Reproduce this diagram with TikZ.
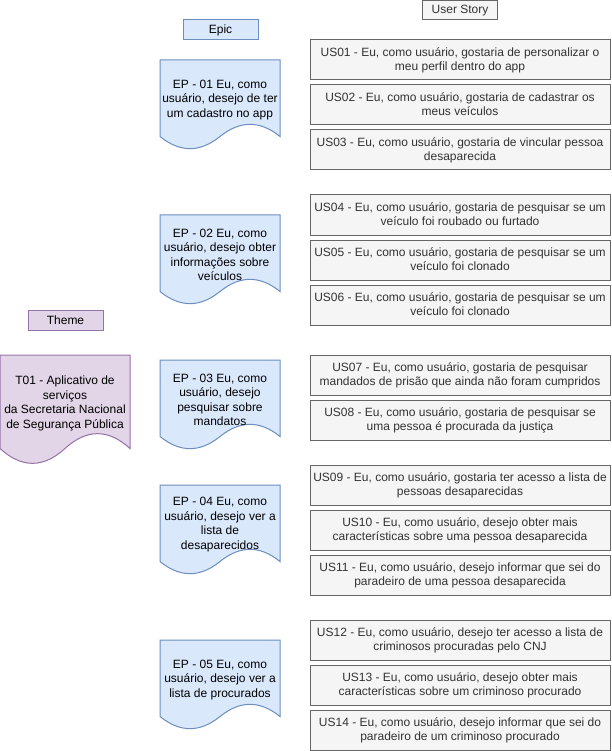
\documentclass[tikz,border=0pt]{standalone}
\usepackage{fontspec}
\setmainfont{Liberation Sans}
\usepackage{xcolor}
\usetikzlibrary{calc}

\definecolor{epicfill}{HTML}{DAE8FC}
\definecolor{epicline}{HTML}{6C8EBF}
\definecolor{themefill}{HTML}{E1D5E7}
\definecolor{themeline}{HTML}{9673A6}
\definecolor{storyfill}{HTML}{F5F5F5}
\definecolor{storyline}{HTML}{666666}
\definecolor{storytext}{HTML}{333333}

% document shape: name, x, y, width, height, style, text
\newcommand{\docbox}[7]{%
  \draw[#6] (#2,#3) -- ({#2+#4},#3) -- ({#2+#4},{#3+0.85*#5})
    .. controls ({#2+5*#4/6},{#3+0.67*#5}) and ({#2+2*#4/3},{#3+0.67*#5}) .. ({#2+#4/2},{#3+0.85*#5})
    .. controls ({#2+#4/3},{#3+1.03*#5}) and ({#2+#4/6},{#3+1.03*#5}) .. (#2,{#3+0.85*#5}) -- cycle;
  \node[doctext] (#1) at ({#2+#4/2},{#3+0.425*#5+1.5}) {#7};}

\begin{document}
\begin{tikzpicture}[x=1pt, y=-1pt,
    txt/.style={font=\fontsize{12}{14.5}\selectfont, align=center, inner sep=0pt},
    doctext/.style={txt},
    epicdoc/.style={fill=epicfill, draw=epicline, line width=1pt},
    themedoc/.style={fill=themefill, draw=themeline, line width=1pt},
    header/.style={txt, minimum width=75pt, minimum height=20pt, line width=1pt},
    story/.style={txt, text=storytext, fill=storyfill, draw=storyline, line width=1pt,
      minimum width=300pt, minimum height=40pt, text depth=1.5pt}]
  \useasboundingbox (0,0) rectangle (611,751);

  % Headers
  \node[header, fill=epicfill, draw=epicline] (epic) at (220.5,30) {Epic};
  \node[header, fill=storyfill, draw=storyline, text=storytext, minimum height=19pt] (userstory) at (460,10.5) {User Story};
  \node[header, fill=themefill, draw=themeline] (theme) at (65.5,320) {Theme};

  % Theme
  \docbox{t01}{0}{355}{130}{110}{themedoc}{T01 - Aplicativo de\\serviços\\da Secretaria Nacional\\de Segurança Pública}

  % Epics
  \docbox{ep01}{160}{60}{120}{90}{epicdoc}{EP - 01 Eu, como\\usuário, desejo de ter\\um cadastro no app}
  \docbox{ep02}{160}{215}{120}{90}{epicdoc}{EP - 02 Eu, como\\usuário, desejo obter\\informações sobre\\veículos}
  \docbox{ep03}{160}{360}{120}{90}{epicdoc}{EP - 03 Eu, como\\usuário, desejo\\pesquisar sobre\\mandatos}
  \docbox{ep04}{160}{485}{120}{90}{epicdoc}{EP - 04 Eu, como\\usuário, desejo ver a\\lista de\\desaparecidos}
  \docbox{ep05}{160}{640}{120}{90}{epicdoc}{EP - 05 Eu, como\\usuário, desejo ver a\\lista de procurados}

  % User stories
  \node[story] (us01) at (460,60) {US01 - Eu, como usuário, gostaria de personalizar o\\meu perfil dentro do app};
  \node[story] (us02) at (460,105) {US02 - Eu, como usuário, gostaria de cadastrar os\\meus veículos};
  \node[story] (us03) at (460,150) {US03 - Eu, como usuário, gostaria de vincular pessoa\\desaparecida};
  \node[story] (us04) at (460,215) {US04 - Eu, como usuário, gostaria de pesquisar se um\\veículo foi roubado ou furtado};
  \node[story] (us05) at (460,260) {US05 - Eu, como usuário, gostaria de pesquisar se um\\veículo foi clonado};
  \node[story] (us06) at (460,305) {US06 - Eu, como usuário, gostaria de pesquisar se um\\veículo foi clonado};
  \node[story] (us07) at (460,375) {US07 - Eu, como usuário, gostaria de pesquisar\\mandados de prisão que ainda não foram cumpridos};
  \node[story] (us08) at (460,420) {US08 - Eu, como usuário, gostaria de pesquisar se\\uma pessoa é procurada da justiça};
  \node[story] (us09) at (460,485) {US09 - Eu, como usuário, gostaria ter acesso a lista de\\pessoas desaparecidas};
  \node[story] (us10) at (460,530) {US10 - Eu, como usuário, desejo obter mais\\características sobre uma pessoa desaparecida};
  \node[story] (us11) at (460,575) {US11 - Eu, como usuário, desejo informar que sei do\\paradeiro de uma pessoa desaparecida};
  \node[story] (us12) at (460,640) {US12 - Eu, como usuário, desejo ter acesso a lista de\\criminosos procuradas pelo CNJ};
  \node[story] (us13) at (460,685) {US13 - Eu, como usuário, desejo obter mais\\características sobre um criminoso procurado};
  \node[story] (us14) at (460,730) {US14 - Eu, como usuário, desejo informar que sei do\\paradeiro de um criminoso procurado};
\end{tikzpicture}
\end{document}
